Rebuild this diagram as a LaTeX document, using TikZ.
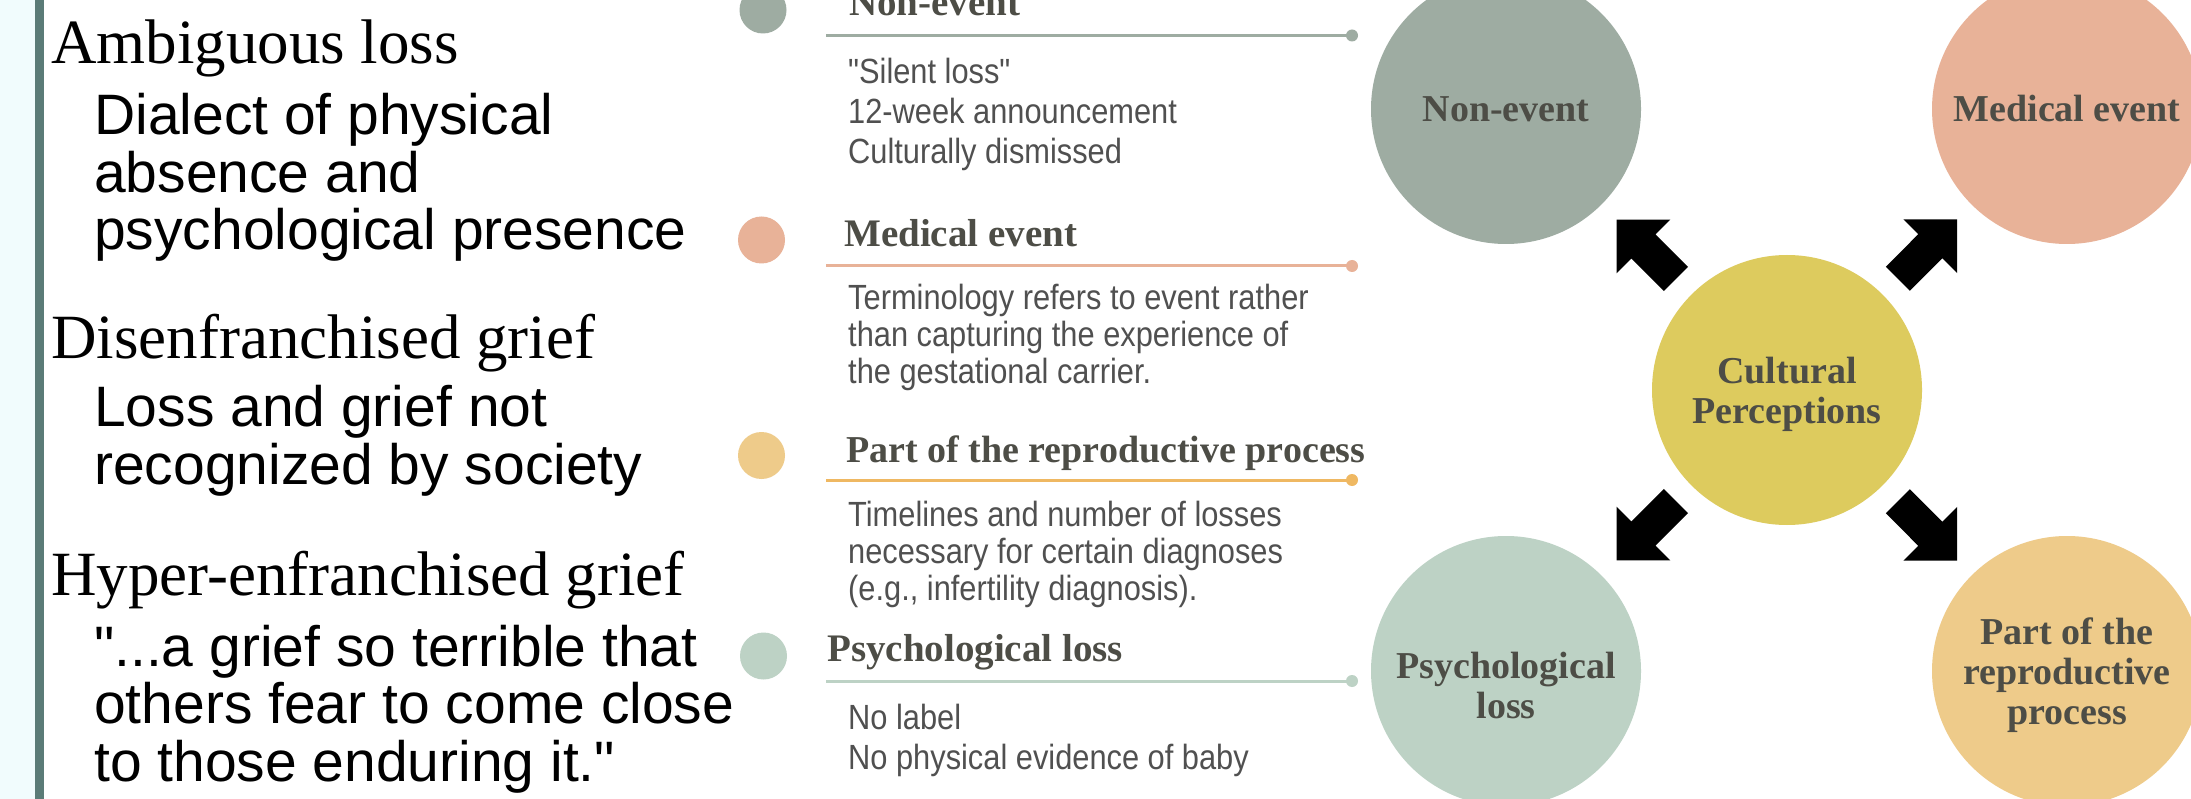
\documentclass[tikz,border=0pt]{standalone}
\usepackage{fontspec}
\setmainfont{Liberation Serif}
\newfontfamily\futura{Liberation Sans}
\newfontfamily\futuranarrow[FakeStretch=0.88]{Liberation Sans}
\usetikzlibrary{calc}

\definecolor{sidebg}{HTML}{F1FCFD}
\definecolor{sidebar}{HTML}{5B7B77}
\definecolor{nonc}{HTML}{9EACA2}
\definecolor{medc}{HTML}{E8B298}
\definecolor{partc}{HTML}{EECB8A}
\definecolor{partline}{HTML}{EFB862}
\definecolor{psyc}{HTML}{BDD2C5}
\definecolor{culc}{HTML}{DDCB5E}
\definecolor{inkgray}{HTML}{4D4D46}
\definecolor{bodygray}{HTML}{505050}

\tikzset{
  term/.style={anchor=base west, inner sep=0pt, font=\fontsize{63}{63}\selectfont},
  termtext/.style={anchor=base west, inner sep=0pt, align=left, font=\futura\fontsize{57}{57.5}\selectfont},
  bullet/.style={circle, inner sep=0pt, minimum size=47pt},
  listhead/.style={anchor=base west, inner sep=0pt, text=inkgray, font=\bfseries\fontsize{39}{39}\selectfont},
  listtext/.style={anchor=base west, inner sep=0pt, align=left, text=bodygray, font=\futuranarrow\fontsize{35}{37}\selectfont},
  rule/.style={line width=3pt},
  bubble/.style={circle, inner sep=0pt, minimum size=270pt, align=center, text=inkgray, font=\bfseries\fontsize{38}{40}\selectfont},
  bubblelbl/.style={inner sep=0pt, align=center, text=inkgray, font=\bfseries\fontsize{38}{40}\selectfont}
}

% block arrow pointing from #1 towards #2
\newcommand\blockarrow[2]{%
  \coordinate (ba) at ($(#1)!157pt!(#2)$);
  \coordinate (bh) at ($(#1)!203pt!(#2)$);
  \coordinate (bt) at ($(#1)!241pt!(#2)$);
  \fill ($(ba)!17pt!90:(#2)$) -- ($(bh)!17pt!90:(#2)$) -- ($(bh)!38pt!90:(#2)$) -- (bt)
     -- ($(bh)!38pt!-90:(#2)$) -- ($(bh)!17pt!-90:(#2)$) -- ($(ba)!17pt!-90:(#2)$) -- cycle;
}

\begin{document}
\begin{tikzpicture}[x=1pt, y=-1pt]
% Canvas
\useasboundingbox (0,0) rectangle (2191,799);
\clip (0,0) rectangle (2191,799);
\fill[white] (0,0) rectangle (2191,799);
\fill[sidebg] (0,0) rectangle (35,799);
\fill[sidebar] (35,0) rectangle (43.5,799);

% Kinds of grief (multi-line nodes sit on their last baseline)
\node[term] (amb) at (51,64) {Ambiguous loss};
\node[termtext] (ambtxt) at (94,250) {Dialect of physical\\absence and\\psychological presence};
\node[term] (dis) at (51,358) {Disenfranchised grief};
\node[termtext] (distxt) at (94,484) {Loss and grief not\\recognized by society};
\node[term] (hyp) at (51,595) {Hyper-enfranchised grief};
\node[termtext] (hyptxt) at (94,781) {"...a grief so terrible that\\others fear to come close\\to those enduring it."};

% List of perceptions
\node[bullet, fill=nonc] (nondot) at (763,10) {};
\node[listhead] (nonhead) at (849,16) {Non-event};
\coordinate (nonl) at (826,35.5);
\coordinate (nonr) at (1352,35.5);
\draw[rule, nonc] (nonl) -- (nonr);
\fill[nonc] (nonr) circle (6);
\node[listtext, font=\futuranarrow\fontsize{35}{40}\selectfont] (nontxt) at (848,164) {"Silent loss"\\12-week announcement\\Culturally dismissed};

\node[bullet, fill=medc] (meddot) at (761.5,240) {};
\node[listhead] (medhead) at (844,247) {Medical event};
\coordinate (medl) at (826,266);
\coordinate (medr) at (1352,266);
\draw[rule, medc] (medl) -- (medr);
\fill[medc] (medr) circle (6);
\node[listtext] (medtxt) at (848,383) {Terminology refers to event rather\\than capturing the experience of\\the gestational carrier.};

\node[bullet, fill=partc] (partdot) at (761.5,455.5) {};
\node[listhead, font=\bfseries\fontsize{38}{38}\selectfont] (parthead) at (846,462) {Part of the reproductive process};
\coordinate (partl) at (826,480);
\coordinate (partr) at (1352,480);
\draw[rule, partline] (partl) -- (partr);
\fill[partline] (partr) circle (6);
\node[listtext] (parttxt) at (848,600) {Timelines and number of losses\\necessary for certain diagnoses\\(e.g., infertility diagnosis).};

\node[bullet, fill=psyc] (psydot) at (763.5,656) {};
\node[listhead] (psyhead) at (827,661) {Psychological loss};
\coordinate (psyl) at (826,681);
\coordinate (psyr) at (1352,681);
\draw[rule, psyc] (psyl) -- (psyr);
\fill[psyc] (psyr) circle (6);
\node[listtext, font=\futuranarrow\fontsize{35}{40}\selectfont] (psytxt) at (848,769) {No label\\No physical evidence of baby};

% Radial diagram
\node[bubble, fill=culc] (cult) at (1787,390) {};
\node[bubblelbl] (cultlbl) at (1787,394) {Cultural\\Perceptions};
\node[bubble, fill=nonc] (non) at (1506,109) {Non-event};
\node[bubble, fill=medc] (med) at (2067,109) {Medical event};
\node[bubble, fill=psyc] (psy) at (1506,671) {};
\node[bubblelbl] (psylbl) at (1506,685) {Psychological\\loss};
\node[bubble, fill=partc] (part) at (2067,671) {};
\node[bubblelbl] (partlbl) at (2067,675) {Part of the\\reproductive\\process};
\blockarrow{cult}{non}
\blockarrow{cult}{med}
\blockarrow{cult}{psy}
\blockarrow{cult}{part}
\end{tikzpicture}
\end{document}
